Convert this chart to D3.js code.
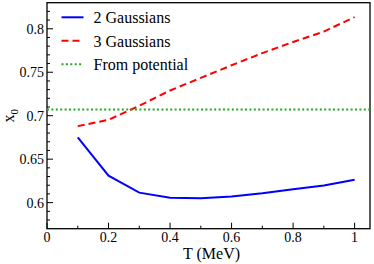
<!DOCTYPE html>
<html><head><meta charset="utf-8">
<script src="https://cdn.jsdelivr.net/npm/d3@7"></script>
</head><body style="margin:0">
<script>
const temps = [0.1,0.2,0.3,0.4,0.5,0.6,0.7,0.8,0.9,1.0];
const gauss2 = [0.675,0.631,0.6115,0.6055,0.605,0.607,0.6108,0.6155,0.6198,0.6262];
const gauss3 = [0.688,0.6952,0.7115,0.729,0.7435,0.758,0.772,0.7848,0.7968,0.8135];
const potential = 0.7071;
const xTicks = [0,0.2,0.4,0.6,0.8,1];
const yTicks = [0.6,0.65,0.7,0.75,0.8];
const legendLabels = ["2 Gaussians","3 Gaussians","From potential"];

const W=374,H=264, L=47, R=370, T=2.7, B=228.7;
const svg=d3.select("body").append("svg").attr("width",W).attr("height",H);
const x=d3.scaleLinear().domain([0,1.05]).range([L,R]);
const y=d3.scaleLinear().domain([0.57,0.83]).range([B,T]);
function txt(sel,fs){ return sel.append("text").attr("font-size",fs).style("font-family",`"Liberation Serif"`); }

svg.append("rect").attr("x",L).attr("y",T).attr("width",R-L).attr("height",B-T)
  .attr("fill","none").attr("stroke","#000").attr("stroke-width",1.3);

const yMinor=d3.range(58,83).map(v=>v/100);
const g=svg.append("g");
yMinor.forEach(v=>{
  const major=yTicks.some(t=>Math.abs(t-v)<1e-9);
  g.append("line").attr("x1",L).attr("x2",L+(major?6:3)).attr("y1",y(v)).attr("y2",y(v))
    .attr("stroke","#000").attr("stroke-width",1);
});
yTicks.forEach(v=>{
  txt(svg,14).attr("x",L-3).attr("y",y(v)+5).attr("text-anchor","end").text(String(v));
});
const xMinor=d3.range(0,11).map(v=>v/10);
xMinor.forEach(v=>{
  const major=xTicks.some(t=>Math.abs(t-v)<1e-9);
  g.append("line").attr("x1",x(v)).attr("x2",x(v)).attr("y1",B).attr("y2",B-(major?6:3))
    .attr("stroke","#000").attr("stroke-width",1);
});
xTicks.forEach(v=>{
  txt(svg,14).attr("x",x(v)).attr("y",242).attr("text-anchor","middle").text(String(v));
});

txt(svg,16).attr("x",(L+R)/2+3).attr("y",259).attr("text-anchor","middle").text("T (MeV)");
const yt=txt(svg,16).attr("transform",`translate(14,${(T+B)/2}) rotate(-90)`)
  .attr("text-anchor","middle");
yt.append("tspan").text("x");
yt.append("tspan").attr("font-size",11).attr("dy",4).text("0");

const line=d3.line().x((d,i)=>x(temps[i])).y(d=>y(d));
svg.append("path").datum(gauss2).attr("d",line).attr("fill","none")
  .attr("stroke","#0000ff").attr("stroke-width",2);
svg.append("path").datum(gauss3).attr("d",line).attr("fill","none")
  .attr("stroke","#ff0000").attr("stroke-width",2).attr("stroke-dasharray","7,4");
svg.append("line").attr("x1",L).attr("x2",R).attr("y1",y(potential)).attr("y2",y(potential))
  .attr("stroke","#22aa22").attr("stroke-width",2).attr("stroke-dasharray","2,2.4");

const styles=[{c:"#0000ff",d:null},{c:"#ff0000",d:"7,4"},{c:"#22aa22",d:"2,2.4"}];
legendLabels.forEach((lab,i)=>{
  const yy=17.3+i*23.5;
  const ln=svg.append("line").attr("x1",61.5).attr("x2",83.5).attr("y1",yy).attr("y2",yy)
    .attr("stroke",styles[i].c).attr("stroke-width",2);
  if(styles[i].d) ln.attr("stroke-dasharray",styles[i].d);
  txt(svg,16).attr("x",93.5).attr("y",yy+6).text(lab);
});
</script>
</body></html>
